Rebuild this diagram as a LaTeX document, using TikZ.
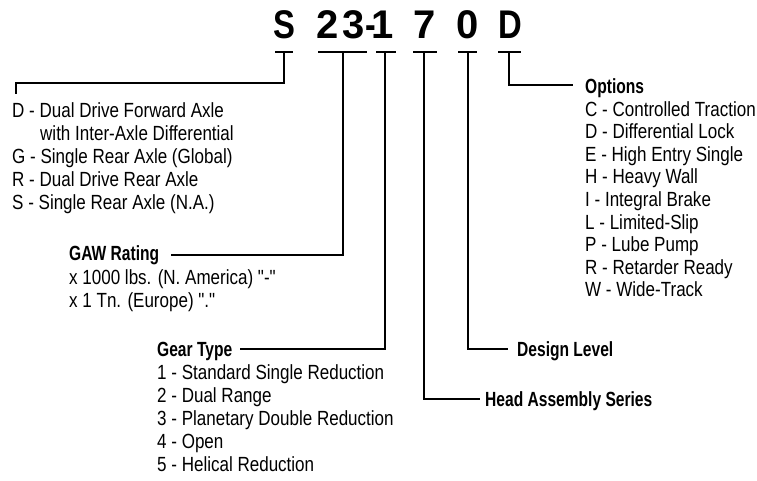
\documentclass[tikz,border=0pt]{standalone}
\usepackage{fontspec}
\setmainfont{Liberation Sans}[FakeStretch=0.83, Ligatures=TeXOff]
\newfontfamily\hdrfont{Liberation Sans}[FakeStretch=0.76]
\newfontfamily\titlefont{Liberation Sans}[FakeStretch=0.82]
\newfontfamily\digitfont{Liberation Sans}[FakeStretch=1.0]
\newfontfamily\dashfont{Liberation Sans}[FakeStretch=0.8]
\begin{document}
\begin{tikzpicture}[x=1pt,y=-1pt,
  conn/.style={line width=1.4pt, line join=miter, line cap=butt},
  txt/.style={anchor=base west, inner sep=0pt, font=\fontsize{20.5}{23}\selectfont},
  hdr/.style={anchor=base west, inner sep=0pt, font=\hdrfont\bfseries\fontsize{20.5}{23}\selectfont},
  big/.style={anchor=base, inner sep=0pt, font=\titlefont\bfseries\fontsize{40}{40}\selectfont},
  bigd/.style={anchor=base, inner sep=0pt, font=\digitfont\bfseries\fontsize{40}{40}\selectfont},
  bigdash/.style={anchor=base, inner sep=0pt, font=\dashfont\bfseries\fontsize{40}{40}\selectfont}]
\useasboundingbox (0,0) rectangle (757,481);
% title characters
\node[big] (kS) at (284,39) {S};
\node[bigd] (k2) at (328,39) {2};
\node[bigd] (k3) at (353.5,39) {3};
\node[bigdash] (kdash) at (370.5,39) {-};
\node[bigd] (k1) at (383,39) {1};
\node[bigd] (k7) at (424.5,39) {7};
\node[bigd] (k0) at (468,39) {0};
\node[big] (kD) at (510,39) {D};
% T bars
\coordinate (tS) at (284,52);
\coordinate (t23) at (343,52);
\coordinate (t1) at (385,52);
\coordinate (t7) at (424,52);
\coordinate (t0) at (468,52);
\coordinate (tD) at (509,52);
\draw[conn] (275,52) -- (293,52);
\draw[conn] (318,52) -- (367,52);
\draw[conn] (376,52) -- (396,52);
\draw[conn] (413,52) -- (437,52);
\draw[conn] (458,52) -- (477,52);
\draw[conn] (498,52) -- (521,52);
% left block
\node[txt] (l1) at (12,117.5) {D - Dual Drive Forward Axle};
\node[txt] (l2) at (40,140.5) {with Inter-Axle Differential};
\node[txt] (l3) at (12,163.5) {G - Single Rear Axle (Global)};
\node[txt] (l4) at (12,186.5) {R - Dual Drive Rear Axle};
\node[txt] (l5) at (12,209.5) {S - Single Rear Axle (N.A.)};
% GAW
\node[hdr] (gaw) at (69,260.5) {GAW Rating};
\node[txt] (g1) at (69,284.5) {x 1000 lbs. (N. America) "-"};
\node[txt] (g2) at (69,307.5) {x 1 Tn. (Europe) "."};
% Gear type
\node[hdr] (gear) at (157,356.5) {Gear Type};
\node[txt] (r1) at (157,379.5) {1 - Standard Single Reduction};
\node[txt] (r2) at (157,402.5) {2 - Dual Range};
\node[txt] (r3) at (157,425.5) {3 - Planetary Double Reduction};
\node[txt] (r4) at (157,448.5) {4 - Open};
\node[txt] (r5) at (157,471.5) {5 - Helical Reduction};
% head, design
\node[hdr] (head) at (485,406.5) {Head Assembly Series};
\node[hdr] (design) at (517,356.5) {Design Level};
% options
\node[hdr] (opt) at (585,93.5) {Options};
\foreach \t [count=\i] in {C - Controlled Traction, D - Differential Lock, E - High Entry Single, H - Heavy Wall, I - Integral Brake, L - Limited-Slip, P - Lube Pump, R - Retarder Ready, W - Wide-Track}
  \node[txt] (o\i) at (585,{93.5+22.6*\i}) {\t};
% connector end points
\coordinate (eS) at (16,94);
\coordinate (e23) at (171,255);
\coordinate (e1) at (240,349);
\coordinate (e7) at (480,399);
\coordinate (e0) at (508,349);
\coordinate (eD) at (573,85);
\draw[conn] (tS) -- (284,83) -| (eS);
\draw[conn] (t23) |- (e23);
\draw[conn] (t1) |- (e1);
\draw[conn] (t7) |- (e7);
\draw[conn] (t0) |- (e0);
\draw[conn] (tD) |- (eD);
\end{tikzpicture}
\end{document}
